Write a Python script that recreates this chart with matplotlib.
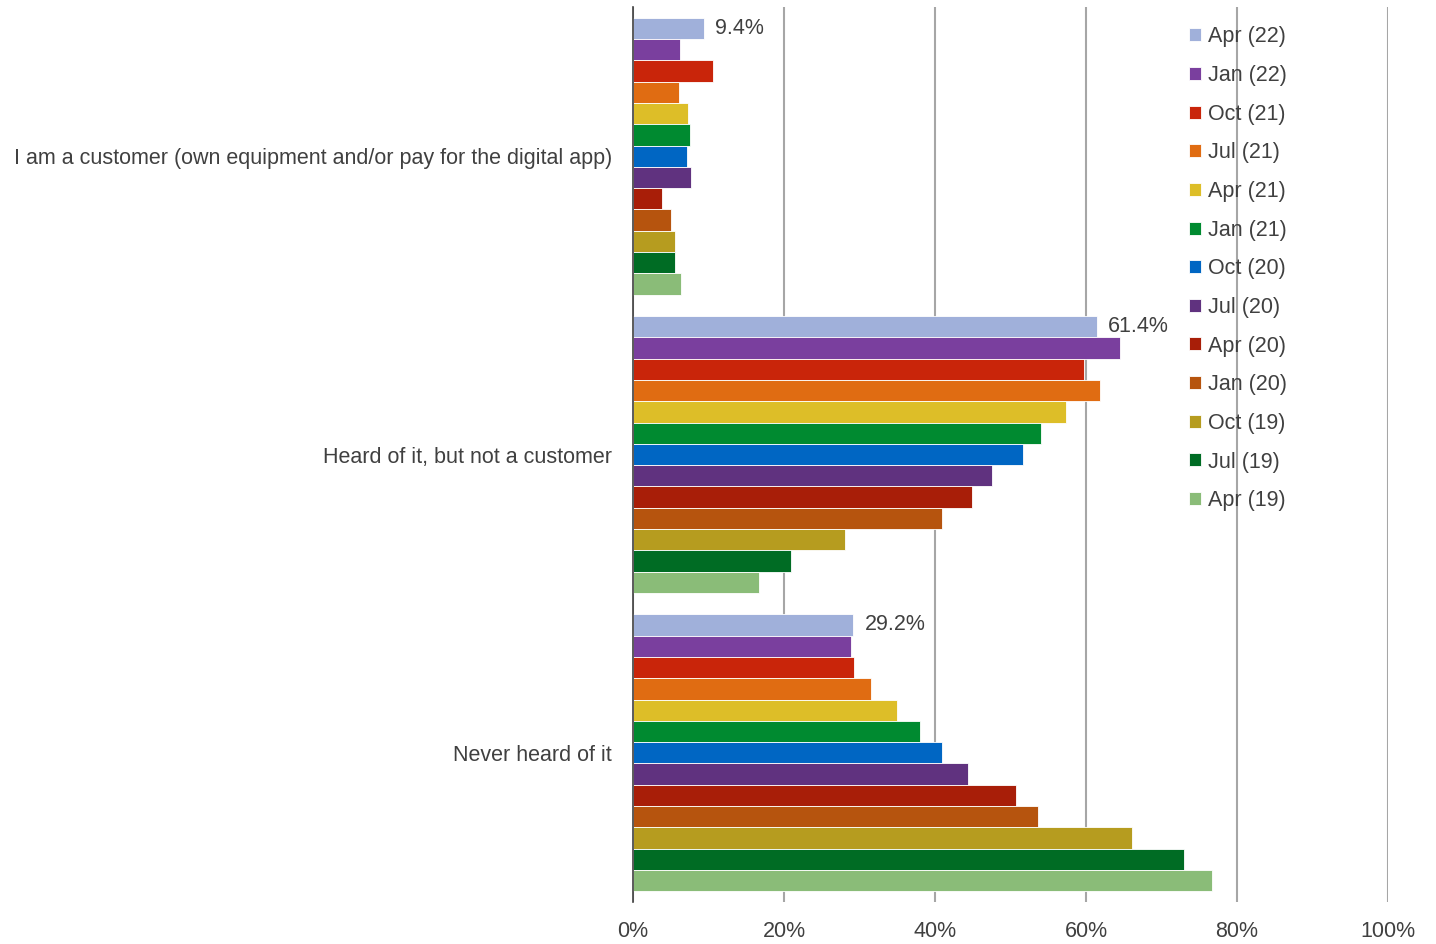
import matplotlib.pyplot as plt
import numpy as np

plt.rcParams['font.family'] = ['Liberation Sans', 'DejaVu Sans']

categories = [
	"I am a customer (own equipment and/or pay for the digital app)",
	"Heard of it, but not a customer",
	"Never heard of it",
]
series = ["Apr (22)", "Jan (22)", "Oct (21)", "Jul (21)", "Apr (21)", "Jan (21)", "Oct (20)",
	"Jul (20)", "Apr (20)", "Jan (20)", "Oct (19)", "Jul (19)", "Apr (19)"]
colors = ["#A0B0DA", "#7A3F9E", "#C9250A", "#E06C12", "#DDBE28", "#008A30", "#0066C3",
	"#60327F", "#A81E08", "#B6540E", "#B69C1F", "#006C24", "#8ABC78"]

# one row per series (Apr 22 first), one column per category
customer = [9.4, 6.2, 10.6, 6.1, 7.3, 7.5, 7.2, 7.7, 3.8, 5.0, 5.6, 5.6, 6.4]
heard = [61.4, 64.5, 59.7, 61.9, 57.4, 54.0, 51.7, 47.5, 44.9, 40.9, 28.1, 20.9, 16.7]
never = [29.2, 28.9, 29.3, 31.5, 35.0, 38.0, 40.9, 44.4, 50.7, 53.6, 66.1, 73.0, 76.7]

values = np.array([customer, heard, never]).T
text_color = "#404040"
fs = 15.5

fig = plt.figure(figsize=(14.36, 9.44), dpi=100)
ax = fig.add_axes([633 / 1436, 42 / 944, (1388 - 633) / 1436, (902 - 7) / 944])

n = len(series)
h = 1 / (n + 1)
y = np.arange(len(categories))
for i, name in enumerate(series):
	pos = y + (i - (n - 1) / 2) * h
	ax.barh(pos, values[i], height=h, color=colors[i], edgecolor="#ffffff", linewidth=0.6,
		label=name, zorder=3)
	if i == 0:
		for p, v in zip(pos, values[i]):
			ax.text(v + 1.5, p, f"{v:.1f}%", va="center", ha="left", fontsize=fs, color=text_color)

ax.set_xlim(0, 100)
ax.set_ylim(len(categories) - 0.5, -0.5)
ax.set_xticks(np.arange(0, 101, 20))
ax.set_xticklabels([f"{t}%" for t in range(0, 101, 20)])
ax.set_yticks(y)
ax.set_yticklabels(categories)
ax.xaxis.grid(True, color="#A6A6A6", linewidth=1.5, zorder=0)
ax.tick_params(axis="x", length=0, labelsize=fs, labelcolor=text_color, pad=14)
ax.tick_params(axis="y", length=0, labelsize=fs, labelcolor=text_color, pad=15)
for s in ["top", "right", "bottom"]:
	ax.spines[s].set_visible(False)
ax.spines["left"].set_color("#404040")
ax.spines["left"].set_linewidth(1.2)
ax.spines["left"].set_zorder(4)

leg = fig.legend(loc="upper left", bbox_to_anchor=(1170 / 1436, 1 - 7 / 944), frameon=False,
	fontsize=fs, handlelength=0.55, handleheight=0.55, handletextpad=0.3, labelspacing=0.82,
	labelcolor=text_color)

fig.savefig("out.png", dpi=100)
